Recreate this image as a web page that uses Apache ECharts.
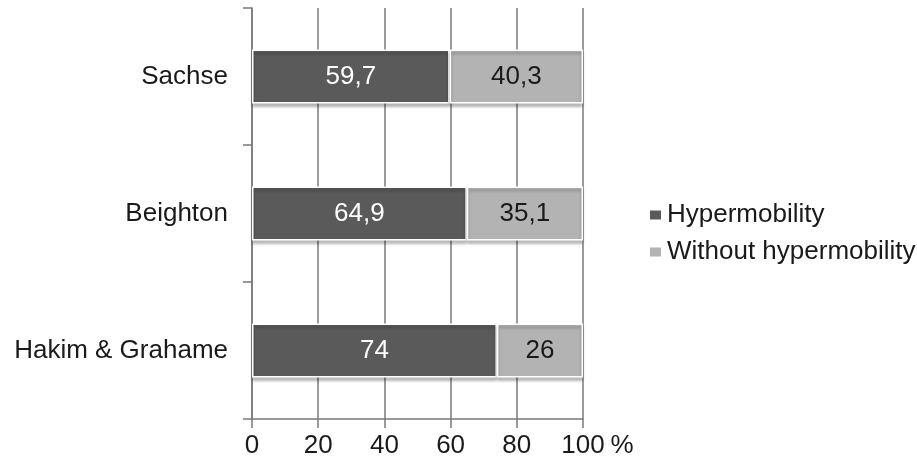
<!DOCTYPE html>
<html>
<head>
<meta charset="utf-8">
<script src="https://cdn.jsdelivr.net/npm/echarts@6/dist/echarts.min.js"></script>
<style>
  html, body { margin: 0; padding: 0; background: #ffffff; }
  #chart { width: 917px; height: 462px; }
</style>
</head>
<body>
<div id="chart"></div>
<script>
// Scoring systems, listed bottom to top
const categories = ['Hakim & Grahame', 'Beighton', 'Sachse'];
// Share of subjects (%) per scoring system
const hypermobility = [74, 64.9, 59.7];
const withoutHypermobility = [26, 35.1, 40.3];
const seriesNames = ['Hypermobility', 'Without hypermobility'];
const xTicks = [0, 20, 40, 60, 80, 100];

const FONT = '"Liberation Sans", Arial, sans-serif';
const FS = 26;
const commaDecimal = v => String(v).replace('.', ',');

const chart = echarts.init(document.getElementById('chart'), null, { renderer: 'canvas' });

const barStyle = (color) => ({
  color: color,
  borderColor: '#ffffff',
  borderWidth: 1.5,
  shadowColor: 'rgba(0,0,0,0.28)',
  shadowBlur: 3,
  shadowOffsetY: 3
});

chart.setOption({
  backgroundColor: '#ffffff',
  animation: false,
  grid: { left: 252, right: 334, top: 8, bottom: 43, containLabel: false },
  legend: {
    orient: 'vertical',
    left: 643,
    top: 197,
    icon: 'rect',
    itemWidth: 13,
    itemHeight: 11,
    itemGap: 11,
    data: seriesNames,
    textStyle: { fontFamily: FONT, fontSize: FS, color: '#1a1a1a' }
  },
  xAxis: {
    type: 'value',
    min: xTicks[0],
    max: xTicks[xTicks.length - 1],
    interval: 20,
    name: '%',
    nameLocation: 'end',
    nameGap: 27,
    nameTextStyle: { fontFamily: FONT, fontSize: FS, color: '#1a1a1a', verticalAlign: 'top', padding: [14, 0, 0, 0] },
    axisLine: { show: true, lineStyle: { color: '#7a7a7a', width: 1.5 } },
    axisTick: { show: true, inside: false, length: 9, lineStyle: { color: '#7a7a7a', width: 1.5 } },
    splitLine: { show: true, lineStyle: { color: '#7a7a7a', width: 1.5 } },
    axisLabel: { margin: 14, fontFamily: FONT, fontSize: FS, color: '#1a1a1a' }
  },
  yAxis: {
    type: 'category',
    data: categories,
    axisLine: { show: true, lineStyle: { color: '#7a7a7a', width: 1.5 } },
    axisTick: { show: true, length: 9, lineStyle: { color: '#7a7a7a', width: 1.5 } },
    axisLabel: { margin: 24, fontFamily: FONT, fontSize: FS, color: '#1a1a1a' }
  },
  series: [
    {
      name: seriesNames[0],
      type: 'bar',
      stack: 'total',
      barWidth: 54,
      data: hypermobility,
      itemStyle: barStyle('#5a5a5a'),
      label: {
        show: true,
        position: 'inside',
        formatter: p => commaDecimal(p.value),
        fontFamily: FONT, fontSize: FS, color: '#ffffff'
      }
    },
    {
      name: seriesNames[1],
      type: 'bar',
      stack: 'total',
      barWidth: 54,
      data: withoutHypermobility,
      itemStyle: barStyle('#b3b3b3'),
      label: {
        show: true,
        position: 'inside',
        formatter: p => commaDecimal(p.value),
        fontFamily: FONT, fontSize: FS, color: '#1a1a1a'
      }
    }
  ]
});
</script>
</body>
</html>
